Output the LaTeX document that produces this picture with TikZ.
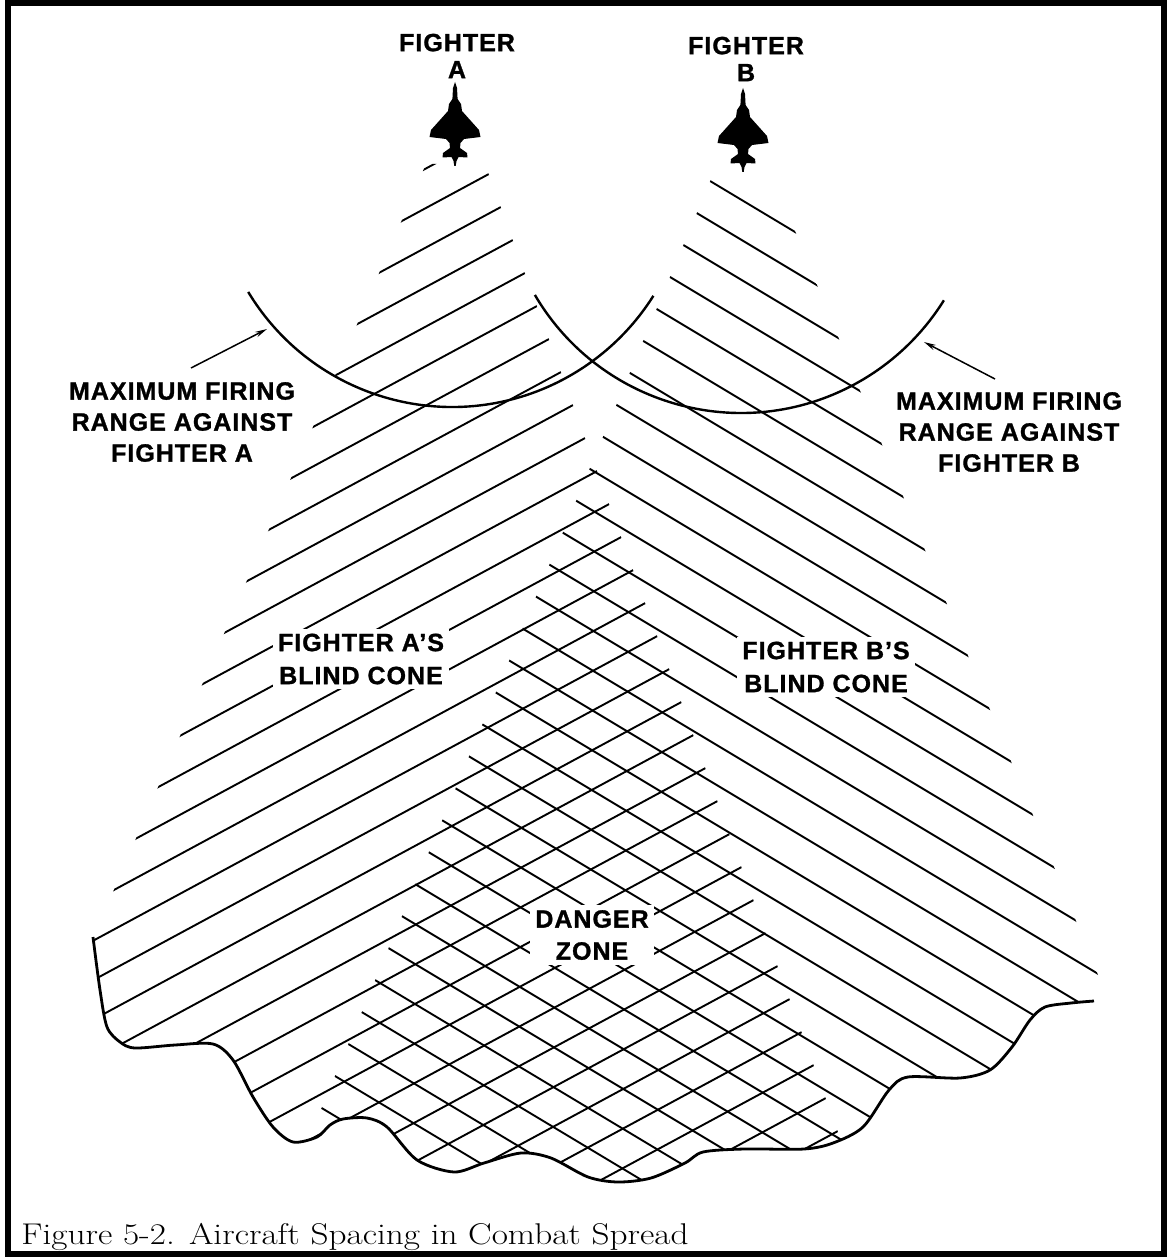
\documentclass[tikz,border=0pt]{standalone}
\usepackage{fontspec}
\usepackage{graphicx}
\usetikzlibrary{arrows.meta}
\newfontfamily\tagfont[LetterSpace=4, FakeBold=1.2]{Liberation Sans}

% wavy lower edge of both blind cones
\newcommand\shoreline{plot[smooth, tension=0.5] coordinates {(93,937) (100,990) (107,1027) (120,1042) (135,1048) (175,1045) (213,1044) (233,1060) (253,1097) (273,1127) (293,1142) (317,1137) (330,1125) (343,1119) (367,1118) (387,1127) (417,1160) (454,1172) (484,1163) (521,1153) (551,1158) (588,1177) (618,1182) (651,1178) (685,1163) (703,1152) (744,1149) (804,1149) (833,1143) (863,1127) (889,1090) (908,1077) (960,1078) (990,1070) (1012,1047) (1030,1020) (1045,1007) (1071,1003) (1094,1001)}}

\tikzset{
  hatch/.style={line width=0.95pt},
  range arc/.style={line width=1.2pt},
  rim/.style={line width=1.4pt, line join=round},
  jet tag/.style={font=\tagfont\bfseries\fontsize{12.5}{13.5}\selectfont, align=center, inner sep=0pt},
  range tag/.style={font=\tagfont\bfseries\fontsize{12.5}{15.5}\selectfont, align=center, inner sep=0pt},
  cone tag/.style={font=\tagfont\bfseries\fontsize{12.5}{16.5}\selectfont, align=center, fill=white, inner sep=2.5pt},
  pointer/.style={line width=0.75pt, -{Stealth[length=6pt,width=2.8pt]}},
  jet/.pic={
    \fill (0,0) -- (2,6) -- (2.6,17) -- (6,22) -- (7,29) -- (24,48) -- (25.5,55)
      -- (9,57) -- (5.5,61) -- (5,66) -- (12,71) -- (12.5,75.5) -- (3.5,75) -- (1.5,79)
      -- (0.7,84) -- (-0.7,84) -- (-1.5,79) -- (-3.5,75) -- (-12.5,75.5) -- (-12,71)
      -- (-5,66) -- (-5.5,61) -- (-9,57) -- (-25.5,55) -- (-24,48) -- (-7,29)
      -- (-6,22) -- (-2.6,17) -- (-2,6) -- cycle;
  }
}

\begin{document}
\begin{tikzpicture}[x=0.5pt, y=-0.5pt]
  \useasboundingbox (0,0) rectangle (1167,1257);

  % hatching of the two blind cones, cut off by the wavy edge
  \begin{scope}
    \clip \shoreline -- (1200,1001) -- (1200,100) -- (0,100) -- (0,937) -- cycle;
    % fighter A's cone
    \begin{scope}
      \clip (426,164) -- (485,164) -- (881,1250) -- (-41,1250) -- cycle;
      \foreach \k in {-1,...,30}
        \draw[hatch] (0,{438+39.5*\k}) -- ++(1200,-648);
    \end{scope}
    % fighter B's cone
    \begin{scope}
      \clip (714,172) -- (771,172) -- (1210,1250) -- (262,1250) -- cycle;
      \foreach \k in {-2,...,29}
        \draw[hatch] (0,{-165+40*\k}) -- ++(1200,720);
    \end{scope}
  \end{scope}
  \draw[rim] \shoreline;

  % text inside the hatching
  \node[cone tag] (coneA) at (361,659) {FIGHTER A’S\\BLIND CONE};
  \node[cone tag] (coneB) at (826,667) {FIGHTER B’S\\BLIND CONE};
  \node[cone tag, font=\tagfont\bfseries\fontsize{12.5}{16}\selectfont] (danger) at (592,935) {DANGER\\ZONE};

  % the two fighters
  \pic (jetA) at (455,82) {jet};
  \pic (jetB) at (743,88) {jet};
  \node[jet tag] (fighterA) at (457,56) {FIGHTER\\A};
  \node[jet tag] (fighterB) at (746,59) {FIGHTER\\B};

  % maximum firing range arcs round each tail
  \coordinate (tailA) at (452,169);
  \coordinate (tailB) at (741,174);
  \draw[range arc] (tailA) ++(148.9:238) arc[start angle=148.9, end angle=32.2, radius=238];
  \draw[range arc] (tailB) ++(149.6:239) arc[start angle=149.6, end angle=31.9, radius=239];

  % callouts for the arcs
  \node[range tag] (rangeA) at (182,422) {MAXIMUM FIRING\\RANGE AGAINST\\FIGHTER A};
  \node[range tag] (rangeB) at (1009,432) {MAXIMUM FIRING\\RANGE AGAINST\\FIGHTER B};
  \coordinate (startA) at (191,368);
  \coordinate (hitA) at (267,329);
  \coordinate (startB) at (995,379);
  \coordinate (hitB) at (924,342);
  \draw[pointer] (startA) -- (hitA);
  \draw[pointer] (startB) -- (hitB);

  % frame and caption
  \draw[line width=3pt] (8,3) rectangle (1164,1254);
  \node[anchor=base west, inner sep=0pt] (caption) at (21,1244)
    {\scalebox{1.175}[1]{\fontsize{15}{17}\selectfont Figure 5-2. Aircraft Spacing in Combat Spread}};
\end{tikzpicture}
\end{document}
